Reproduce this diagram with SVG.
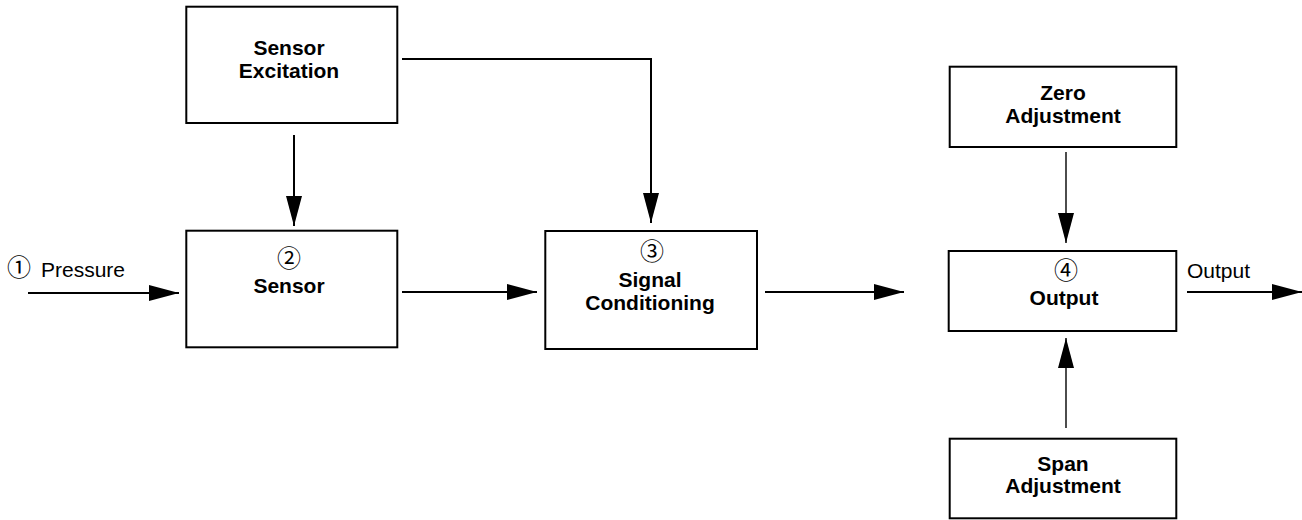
<svg xmlns="http://www.w3.org/2000/svg" width="1302" height="520" viewBox="0 0 1302 520">
<style>
.box{fill:#fff;stroke:#000;stroke-width:2}
.lbl{font-family:"Liberation Sans",Arial,sans-serif;font-weight:bold;font-size:21px;text-anchor:middle;fill:#000}
.txt{font-family:"Liberation Sans",Arial,sans-serif;font-size:21px;fill:#000}
.num{font-family:"Noto Sans CJK JP","DejaVu Sans",sans-serif;font-size:24px;text-anchor:middle;fill:#000}
.ln{fill:none;stroke:#000;stroke-width:2}
.thin{stroke-width:1.4}
</style>
<defs>
<marker id="ah" viewBox="0 0 30 16" refX="30" refY="8" markerWidth="30" markerHeight="16" markerUnits="userSpaceOnUse" orient="auto">
<path d="M0,0 L30,8 L0,16 z" fill="#000"/>
</marker>
</defs>
<g id="connectors">
<path class="ln" d="M28,293 H179" marker-end="url(#ah)"/>
<path class="ln" d="M294,135 V226" marker-end="url(#ah)"/>
<path class="ln" d="M402,59 H651 V223" marker-end="url(#ah)"/>
<path class="ln" d="M402,292 H537" marker-end="url(#ah)"/>
<path class="ln" d="M765,292 H904" marker-end="url(#ah)"/>
<path class="ln thin" d="M1066,152 V243" marker-end="url(#ah)"/>
<path class="ln thin" d="M1066,428 V338" marker-end="url(#ah)"/>
<path class="ln" d="M1187,292 H1302" marker-end="url(#ah)"/>
</g>
<g id="pressure-label">
<text class="num" x="19" y="276">①</text>
<text class="txt" x="41" y="277">Pressure</text>
</g>
<g id="sensor-excitation">
<rect class="box" x="186.3" y="6.7" width="211" height="116.3"/>
<text class="lbl" x="289" y="55">Sensor</text>
<text class="lbl" x="289" y="78">Excitation</text>
</g>
<g id="sensor">
<rect class="box" x="186.3" y="230.7" width="211" height="116.6"/>
<text class="num" x="289" y="267">②</text>
<text class="lbl" x="289" y="293">Sensor</text>
</g>
<g id="signal-conditioning">
<rect class="box" x="545.3" y="231" width="211.7" height="118"/>
<text class="num" x="652" y="260">③</text>
<text class="lbl" x="650" y="287">Signal</text>
<text class="lbl" x="650" y="310">Conditioning</text>
</g>
<g id="zero-adjustment">
<rect class="box" x="949.7" y="66.7" width="226.6" height="80.3"/>
<text class="lbl" x="1063" y="100">Zero</text>
<text class="lbl" x="1063" y="123">Adjustment</text>
</g>
<g id="output">
<rect class="box" x="948.7" y="251" width="227.6" height="80"/>
<text class="num" x="1066" y="279">④</text>
<text class="lbl" x="1064" y="305">Output</text>
</g>
<g id="span-adjustment">
<rect class="box" x="949.7" y="438.7" width="226.6" height="79.6"/>
<text class="lbl" x="1063" y="471">Span</text>
<text class="lbl" x="1063" y="493">Adjustment</text>
</g>
<g id="output-label">
<text class="txt" x="1187" y="278">Output</text>
</g>
</svg>
